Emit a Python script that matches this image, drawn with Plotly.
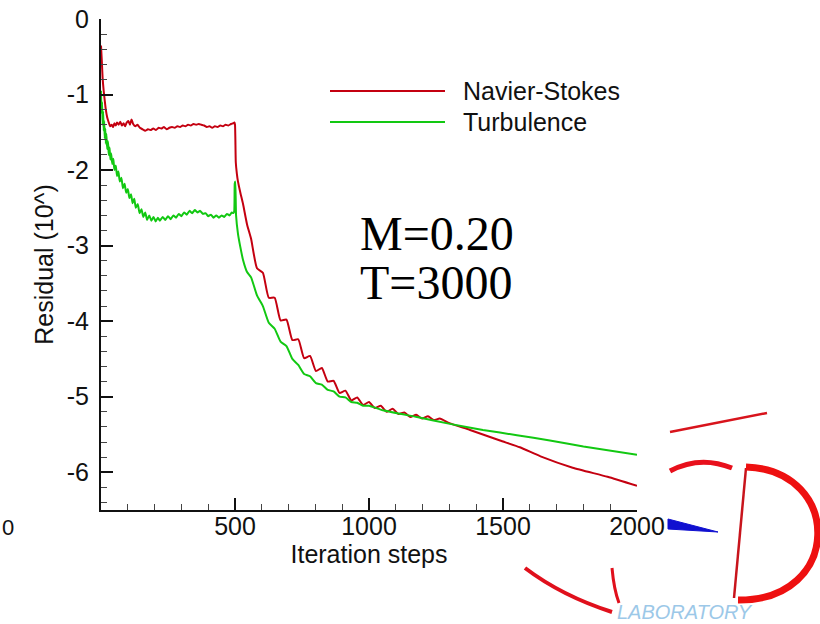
import plotly.graph_objects as go

# ---------------- data ----------------
ns_x = [0, 3, 6, 10, 14, 18, 23, 28, 34, 40, 45, 50, 55, 60, 66, 72, 78, 84, 90, 96,
        102, 108, 114, 120, 128, 136, 145, 155, 165, 175, 185, 195, 205, 215, 225, 235,
        245, 255, 265, 275, 285, 295, 305, 315, 325, 335, 345, 355, 365, 375, 385, 395,
        405, 415, 425, 435, 445, 455, 465, 475, 485, 493, 498, 500, 503, 507, 511, 520,
        530, 545,
        560, 582, 604, 626, 648, 670, 692, 714, 736, 758, 780, 802, 824, 846, 868, 890,
        912, 934, 956, 978, 1000, 1022, 1044, 1066, 1088, 1110, 1132, 1154, 1176, 1198,
        1220, 1242, 1264, 1300, 1377, 1489, 1563, 1640, 1760, 1890, 2000]
ns_y = [-0.35, -0.55, -0.78, -0.95, -1.08, -1.20, -1.30, -1.36, -1.42, -1.40, -1.43, -1.38,
        -1.41, -1.37, -1.40, -1.36, -1.41, -1.38, -1.42, -1.37, -1.35, -1.40, -1.33, -1.39,
        -1.42, -1.40, -1.44, -1.46, -1.48, -1.46, -1.47, -1.45, -1.47, -1.44, -1.45, -1.43,
        -1.46, -1.44, -1.43, -1.44, -1.42, -1.43, -1.41, -1.42, -1.40, -1.41, -1.39, -1.40,
        -1.39, -1.40, -1.41, -1.43, -1.42, -1.44, -1.42, -1.43, -1.41, -1.42, -1.40, -1.41,
        -1.39, -1.38, -1.37, -1.40, -1.90, -2.05, -2.15, -2.30, -2.45, -2.72,
        -2.91, -3.30, -3.36, -3.69, -3.69, -3.99, -3.98, -4.25, -4.24, -4.49, -4.46, -4.66,
        -4.62, -4.80, -4.79, -4.95, -4.92, -5.05, -5.01, -5.11, -5.07, -5.15, -5.12, -5.20,
        -5.16, -5.23, -5.21, -5.27, -5.24, -5.29, -5.26, -5.31, -5.29, -5.35, -5.44, -5.58,
        -5.67, -5.79, -5.94, -6.06, -6.18]

tu_x = [0, 2, 4, 6, 8, 10, 12, 14, 16, 18, 20, 23, 26, 29, 32, 35, 38, 42, 46, 50, 55, 60,
        65, 70, 76, 82, 88, 94, 100, 106, 112, 118, 124, 130, 137, 144, 151, 158, 165, 172,
        180, 188, 196, 204, 212, 220, 230, 240, 250, 260, 270, 280, 290, 300, 310, 320, 330,
        340, 350, 360, 370, 380, 390, 400, 410, 420, 430, 440, 450, 460, 470, 480, 488, 494,
        497, 499, 501, 504, 511, 520, 530, 545,
        560, 582, 604, 626, 648, 670, 692, 714, 736, 758, 780, 802, 824, 846, 868, 890, 912,
        934, 956, 978, 1000, 1052, 1179, 1302, 1425, 1552, 1675, 1800, 2000]
tu_y = [-0.95, -1.25, -1.10, -1.40, -1.22, -1.48, -1.35, -1.58, -1.45, -1.65, -1.52, -1.72,
        -1.62, -1.80, -1.70, -1.86, -1.78, -1.92, -1.85, -2.00, -1.94, -2.08, -2.02, -2.15,
        -2.10, -2.24, -2.18, -2.30, -2.25, -2.37, -2.32, -2.44, -2.38, -2.50, -2.45, -2.57,
        -2.52, -2.62, -2.56, -2.66, -2.60, -2.67, -2.62, -2.68, -2.63, -2.67, -2.62, -2.66,
        -2.61, -2.65, -2.60, -2.63, -2.58, -2.61, -2.56, -2.59, -2.54, -2.57, -2.53, -2.56,
        -2.54, -2.58, -2.57, -2.61, -2.59, -2.63, -2.60, -2.63, -2.60, -2.62, -2.58, -2.60,
        -2.56, -2.57, -2.55, -2.18, -2.15, -2.60, -2.84, -3.02, -3.19, -3.35,
        -3.42, -3.66, -3.80, -4.02, -4.10, -4.27, -4.33, -4.50, -4.58, -4.70, -4.73, -4.82,
        -4.84, -4.91, -4.93, -5.00, -5.01, -5.07, -5.08, -5.12, -5.12, -5.18, -5.27, -5.36,
        -5.44, -5.51, -5.58, -5.66, -5.77]

x_major = [0, 500, 1000, 1500, 2000]
x_labels = ["", "500", "1000", "1500", "2000"]
x_minor = [v for v in range(100, 2000, 100) if v % 500 != 0]
y_major = [0, -1, -2, -3, -4, -5, -6]
y_labels = ["0", "-1", "-2", "-3", "-4", "-5", "-6"]
y_minor = [round(-0.2 * k, 1) for k in range(1, 33) if k % 5 != 0]

series_names = ["Navier-Stokes", "Turbulence"]
RED = "#c40010"
GREEN = "#12c812"

# ---------------- figure ----------------
W, H = 820, 624
L, R, T, B = 101, 183, 19, 114
PW, PH = W - L - R, H - T - B


def px(x):
    return (x - L) / PW


def py(y):
    return (H - B - y) / PH


fig = go.Figure()
fig.add_trace(go.Scatter(x=ns_x, y=ns_y, mode="lines", name=series_names[0],
                         line=dict(color=RED, width=2, shape="spline", smoothing=0.5)))
fig.add_trace(go.Scatter(x=tu_x, y=tu_y, mode="lines", name=series_names[1],
                         line=dict(color=GREEN, width=2, shape="spline", smoothing=0.5)))

axis_font = dict(family="Liberation Sans, Arial, sans-serif", size=25, color="#111")

fig.update_layout(
    width=W, height=H,
    margin=dict(l=L, r=R, t=T, b=B, pad=0),
    paper_bgcolor="white", plot_bgcolor="white",
    showlegend=False,
    font=axis_font,
    xaxis=dict(range=[0, 2000], tickmode="array", tickvals=x_major, ticktext=x_labels,
               automargin=False,
               ticks="inside", ticklen=12, tickwidth=2, tickcolor="#111",
               showline=True, linewidth=2, linecolor="#111", showgrid=False, zeroline=False,
               minor=dict(tickmode="array", tickvals=x_minor, ticks="inside", ticklen=6,
                          tickwidth=1, tickcolor="#444"),
               ticklabelstandoff=-7,
               title=dict(text="Iteration steps", font=axis_font, standoff=0),
               tickfont=axis_font),
    yaxis=dict(range=[-6.5, 0], tickmode="array", tickvals=y_major, ticktext=y_labels,
               automargin=False,
               ticks="inside", ticklen=12, tickwidth=2, tickcolor="#111",
               showline=True, linewidth=2, linecolor="#111", showgrid=False, zeroline=False,
               minor=dict(tickmode="array", tickvals=y_minor, ticks="inside", ticklen=6,
                          tickwidth=1, tickcolor="#444"),
               ticklabelstandoff=5,
               title=dict(text="Residual (10^)", font=axis_font, standoff=6),
               tickfont=axis_font),
)

# legend drawn like the original (long line samples)
for i, (name, col) in enumerate(zip(series_names, [RED, GREEN])):
    yy = 91 + 31 * i
    fig.add_shape(type="line", xref="paper", yref="paper",
                  x0=px(330), x1=px(445), y0=py(yy), y1=py(yy),
                  line=dict(color=col, width=2))
    fig.add_annotation(xref="paper", yref="paper", x=px(461), y=py(yy), text=name,
                       showarrow=False, xanchor="left", yanchor="middle",
                       font=dict(family="Liberation Sans, Arial, sans-serif", size=25, color="#111"))

serif = dict(family="Liberation Serif, Times New Roman, serif", size=48, color="#000")
fig.add_annotation(xref="paper", yref="paper", x=px(358), y=py(234), text="M=0.20",
                   showarrow=False, xanchor="left", yanchor="middle", font=serif)
fig.add_annotation(xref="paper", yref="paper", x=px(358), y=py(282), text="T=3000",
                   showarrow=False, xanchor="left", yanchor="middle", font=serif)

# stray label at the left edge
fig.add_annotation(xref="paper", yref="paper", x=px(0), y=py(527), text="0",
                   showarrow=False, xanchor="left", yanchor="middle",
                   font=dict(family="Liberation Sans, Arial, sans-serif", size=22, color="#111"))


# background logo fragments
def P(x, y):
    return f"{px(x):.5f},{py(y):.5f}"


logo = [
    (f"M{P(670, 432)} L{P(767, 413)}", "#d8141c", 2.5, None),
    (f"M{P(670, 471)} Q{P(700, 455)} {P(732, 468)}", "#e8101c", 5, None),
    (f"M{P(746, 468)} L{P(734, 598)}", "#c8141c", 2.5, None),
    (f"M{P(746, 467)} C{P(843, 470)} {P(843, 601)} {P(738, 600)}", "#ee1010", 7, None),
    (f"M{P(525, 568)} Q{P(562, 596)} {P(612, 612)}", "#e0101c", 4, None),
    (f"M{P(612, 568)} Q{P(614, 590)} {P(619, 603)}", "#e0101c", 3, None),
    (f"M{P(668, 519)} L{P(718, 532)} L{P(668, 529)} Z", "#1010d0", 1, "#1010d0"),
]
for path, col, w, fill in logo:
    fig.add_shape(type="path", xref="paper", yref="paper", path=path,
                  line=dict(color=col, width=w), fillcolor=fill, layer="above")

fig.add_annotation(xref="paper", yref="paper", x=px(615), y=py(612), text="<i>LABORATORY</i>",
                   showarrow=False, xanchor="left", yanchor="middle",
                   font=dict(family="Liberation Sans, Arial, sans-serif", size=20, color="#9cc8e8"))

fig.write_html("out.html", config={"displayModeBar": False},
               post_script="document.body.style.margin='0';document.body.style.overflow='hidden';")
